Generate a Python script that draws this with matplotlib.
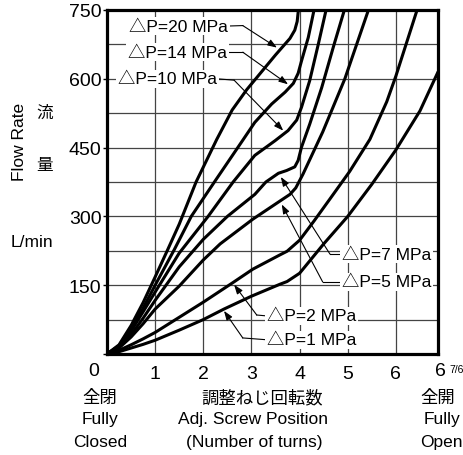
import matplotlib.pyplot as plt

plt.rcParams['font.family'] = ['Liberation Sans', 'Noto Sans CJK JP']

# flow rate (L/min) vs adjusting screw turns, one curve per pressure drop
x_20 = [0, 0.25, 0.5, 0.75, 1.0, 1.25, 1.5, 1.85, 2.28, 2.6, 2.9, 3.2, 3.5, 3.8, 3.9, 3.95, 3.975]
q_20 = [0, 20, 62, 112, 168, 225, 283, 375, 468, 532, 576, 614, 652, 688, 706, 725, 750]

x_14 = [0, 0.25, 0.5, 0.75, 1.0, 1.4, 1.75, 2.25, 2.8, 3.07, 3.42, 3.7, 3.87, 3.97, 4.04, 4.18, 4.3]
q_14 = [0, 18, 55, 100, 150, 228, 300, 378, 463, 505, 545, 571, 590, 612, 639, 690, 750]

x_10 = [0, 0.25, 0.5, 0.75, 1.0, 1.5, 2.1, 2.62, 3.07, 3.49, 3.76, 3.94, 4.04, 4.21, 4.39, 4.55]
q_10 = [0, 17, 50, 92, 135, 220, 300, 375, 433, 465, 487, 510, 538, 596, 676, 750]

x_7 = [0, 0.25, 0.5, 0.75, 1.0, 1.5, 2.0, 2.5, 3.07, 3.3, 3.56, 3.73, 3.9, 3.97, 4.04, 4.21, 4.46, 4.7, 4.93]
q_7 = [0, 15, 42, 78, 117, 190, 250, 300, 348, 375, 394, 400, 408, 422, 451, 501, 581, 669, 750]

x_5 = [0, 0.25, 0.5, 0.75, 1.0, 1.5, 2.0, 2.35, 3.03, 3.6, 3.8, 3.92, 4.07, 4.48, 4.94, 5.43]
q_5 = [0, 13, 37, 66, 98, 148, 205, 240, 294, 334, 348, 362, 392, 484, 600, 750]

x_2 = [0, 0.25, 0.5, 0.75, 1.0, 1.5, 2.0, 2.62, 3.03, 3.59, 3.74, 4.0, 4.3, 4.63, 5.04, 5.46, 5.81, 6.0, 6.44]
q_2 = [0, 8, 20, 33, 47, 80, 113, 156, 185, 216, 224, 248, 290, 338, 398, 468, 550, 606, 750]

x_1 = [0, 0.25, 0.5, 0.75, 1.0, 1.5, 2.0, 2.43, 3.0, 3.59, 3.74, 4.0, 4.5, 5.0, 5.5, 6.0, 6.5, 6.875]
q_1 = [0, 5, 13, 21, 30, 52, 75, 98, 126, 152, 158, 176, 240, 300, 370, 445, 530, 615]

curve_labels = ['△P=20 MPa', '△P=14 MPa', '△P=10 MPa', '△P=7 MPa',
                '△P=5 MPa', '△P=2 MPa', '△P=1 MPa']
y_ticks = [0, 150, 300, 450, 600, 750]
x_ticks = [0, 1, 2, 3, 4, 5, 6]

fig = plt.figure(figsize=(4.64, 4.56), dpi=100)
ax = fig.add_axes([0.2306, 0.2215, 0.7134, 0.7544])

for xs, qs in [(x_20, q_20), (x_14, q_14), (x_10, q_10), (x_7, q_7),
               (x_5, q_5), (x_2, q_2), (x_1, q_1)]:
    ax.plot(xs, qs, color='k', lw=2.2, solid_joinstyle='round',
            solid_capstyle='round', zorder=2)

ax.set_xlim(0, 6.875)
ax.set_ylim(0, 750)

ax.set_yticks(y_ticks)
ax.set_yticklabels([''] + [str(v) for v in y_ticks[1:]])
ax.set_yticks([75, 225, 375, 525, 675], minor=True)
ax.set_xticks(x_ticks)
ax.set_xticklabels([''] + [str(v) for v in x_ticks[1:]])
ax.tick_params(axis='y', which='major', length=3, width=1, labelsize=14, pad=1)
ax.tick_params(axis='y', which='minor', length=0)
ax.tick_params(axis='x', length=0, labelsize=14, pad=8)

ax.grid(True, which='both', color='#444444', lw=0.9)
ax.set_axisbelow(True)
for s in ax.spines.values():
    s.set_linewidth(2.3)
    s.set_zorder(3)

# "0" shared by both axes and the fully-open mark at the right end
ax.annotate('0', xy=(0, 0), xytext=(-9.5, -12), textcoords='offset points',
            ha='center', va='center', fontsize=14)
ax.annotate('6', xy=(6.875, 0), xytext=(2, -12), textcoords='offset points',
            ha='center', va='center', fontsize=14, annotation_clip=False)
ax.annotate('7/6', xy=(6.875, 0), xytext=(13.5, -10.5), textcoords='offset points',
            ha='center', va='center', fontsize=7.5, annotation_clip=False)

# curve labels with leader arrows: (text anchor, ha, elbow, arrow tip)
leaders = [
    ((2.51, 715), 'right', (2.82, 716), (3.53, 668)),
    ((2.49, 658), 'right', (2.82, 658), (3.76, 588)),
    ((2.28, 600), 'right', (2.64, 597), (3.66, 487)),
    ((4.88, 218), 'left', (4.63, 218), (3.61, 386)),
    ((4.88, 157), 'left', (4.48, 157), (3.63, 326)),
    ((3.32, 83), 'left', (3.11, 85), (2.64, 151)),
    ((3.32, 31), 'left', (2.82, 35), (2.43, 94)),
]
for label, (pos, ha, elbow, tip) in zip(curve_labels, leaders):
    ax.text(pos[0], pos[1], label, ha=ha, va='center', fontsize=12.5,
            zorder=2.4, clip_on=False,
            bbox=dict(boxstyle='square,pad=0.1', fc='white', ec='none'))
    ax.plot([pos[0], elbow[0]], [pos[1], elbow[1]], color='k', lw=0.8,
            zorder=2.3, clip_on=False)
    ax.annotate('', xy=tip, xytext=elbow,
                arrowprops=dict(arrowstyle='-|>,head_length=0.55,head_width=0.2',
                                color='k', lw=0.8, shrinkA=0, shrinkB=0),
                zorder=2.3)

# axis titles
fig.text(0.043, 0.689, 'Flow Rate', rotation=90, ha='center', va='center', fontsize=12.5)
fig.text(0.097, 0.752, '流', ha='center', va='center', fontsize=12,
         family='Noto Sans CJK JP')
fig.text(0.097, 0.636, '量', ha='center', va='center', fontsize=12,
         family='Noto Sans CJK JP')
fig.text(0.069, 0.469, 'L/min', ha='center', va='center', fontsize=12.5)

fig.text(0.2155, 0.127, '全閉', ha='center', va='center', fontsize=12.5,
         family='Noto Sans CJK JP')
fig.text(0.2155, 0.079, 'Fully', ha='center', va='center', fontsize=12.5)
fig.text(0.2155, 0.029, 'Closed', ha='center', va='center', fontsize=12.5)

fig.text(0.566, 0.127, '調整ねじ回転数', ha='center', va='center', fontsize=12.5,
         family='Noto Sans CJK JP')
fig.text(0.545, 0.079, 'Adj. Screw Position', ha='center', va='center', fontsize=12.5)
fig.text(0.547, 0.029, '(Number of turns)', ha='center', va='center', fontsize=12.5)

fig.text(0.944, 0.127, '全開', ha='center', va='center', fontsize=12.5,
         family='Noto Sans CJK JP')
fig.text(0.953, 0.079, 'Fully', ha='center', va='center', fontsize=12.5)
fig.text(0.952, 0.029, 'Open', ha='center', va='center', fontsize=12.5)

fig.savefig('out.png', dpi=100)
